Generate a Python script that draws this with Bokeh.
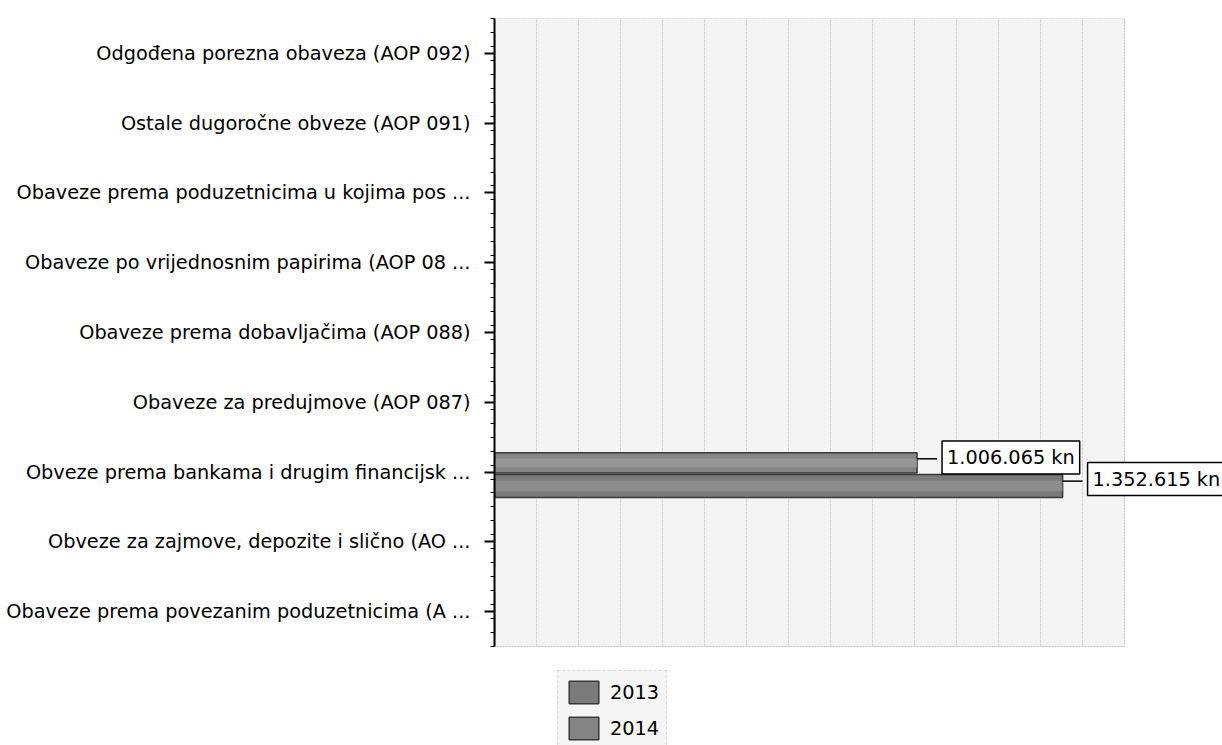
from bokeh.plotting import figure
from bokeh.models import (FixedTicker, Legend, LegendItem, ColumnDataSource, Label)
from bokeh.embed import file_html
from bokeh.resources import INLINE

# ---- data ----
categories = [
    "Obaveze prema povezanim poduzetnicima (A ...",
    "Obveze za zajmove, depozite i slično (AO ...",
    "Obveze prema bankama i drugim financijsk ...",
    "Obaveze za predujmove (AOP 087)",
    "Obaveze prema dobavljačima (AOP 088)",
    "Obaveze po vrijednosnim papirima (AOP 08 ...",
    "Obaveze prema poduzetnicima u kojima pos ...",
    "Ostale dugoročne obveze (AOP 091)",
    "Odgođena porezna obaveza (AOP 092)",
]
values_2013 = [0, 0, 1352615, 0, 0, 0, 0, 0, 0]
values_2014 = [0, 0, 1006065, 0, 0, 0, 0, 0, 0]
series_names = ["2013", "2014"]
x_max = 1500000
x_step = 100000

FONT = "DejaVu Sans"
FS = "19.3px"

def fmt(v):
    return f"{v:,}".replace(",", ".") + " kn"

n = len(categories)
idx = [i + 0.5 for i in range(n)]

# layout (pixels)
W, H = 1222, 745
LEFT, TOP = 494, 18
PLOT_W, PLOT_H = 630, 628          # visible plot area
frame_w = W - LEFT
frame_h = H - TOP
x_end = x_max * frame_w / PLOT_W
y_start = n - n * frame_h / PLOT_H

p = figure(width=W, height=H, output_backend="svg", toolbar_location=None,
           x_range=(0, x_end), y_range=(y_start, n),
           min_border_left=LEFT, min_border_right=0, min_border_top=TOP,
           min_border_bottom=0)

p.background_fill_color = "white"
p.border_fill_color = "white"
p.outline_line_color = None
p.xgrid.visible = False
p.ygrid.visible = False
p.xaxis.visible = False

# plot area background + border
p.quad(left=[0], right=[x_max], bottom=[0], top=[n],
       fill_color="#f3f3f3", line_color="#bdbdbd", line_dash="2 1", line_width=1)
# vertical grid lines
gx = list(range(x_step, x_max, x_step))
p.segment(x0=gx, x1=gx, y0=[0] * len(gx), y1=[n] * len(gx),
          line_color="#d2d2d2", line_dash="3 1", line_width=1)

# y axis
yax = p.yaxis[0]
minor = [i * 0.2 for i in range(n * 5 + 1)]
yax.ticker = FixedTicker(ticks=idx, minor_ticks=minor)
yax.bounds = (0, n)
yax.major_label_overrides = {v: c for v, c in zip(idx, categories)}
yax.major_label_text_font = FONT
yax.major_label_text_font_size = FS
yax.major_label_text_color = "black"
yax.major_label_standoff = 14
yax.axis_line_color = "black"
yax.axis_line_width = 2
yax.major_tick_line_color = "black"
yax.major_tick_line_width = 2
yax.major_tick_out = 10
yax.major_tick_in = 0
yax.minor_tick_line_color = "black"
yax.minor_tick_out = 4
yax.minor_tick_in = 0

# bars
off13, h13 = -0.2, 0.33
off14, h14 = 0.13, 0.29
src13 = ColumnDataSource(dict(y=[v + off13 for v in idx], right=values_2013))
src14 = ColumnDataSource(dict(y=[v + off14 for v in idx], right=values_2014))

r13 = p.hbar(y="y", right="right", left=0, height=h13, source=src13,
             fill_color="#7a7a7a", line_color="#383838", line_width=1.5)
p.hbar(y="y", right="right", left=0, height=h13 * 0.45, source=src13,
       fill_color="#989898", line_color=None, fill_alpha=0.6)
r14 = p.hbar(y="y", right="right", left=0, height=h14, source=src14,
             fill_color="#858585", line_color="#383838", line_width=1.5)
p.hbar(y="y", right="right", left=0, height=h14 * 0.45, source=src14,
       fill_color="#a2a2a2", line_color=None, fill_alpha=0.6)

# value labels with connector
for vals, off, ray_dy, lab_dy in ((values_2013, off13, 0.07, 0.10),
                                  (values_2014, off14, 0.06, 0.08)):
    for y, v in zip(idx, vals):
        if v <= 0:
            continue
        p.ray(x=[v], y=[y + off + ray_dy], length=20, length_units="screen",
              angle=0, line_color="black", line_width=1.5)
        p.add_layout(Label(x=v, y=y + off + lab_dy, text=fmt(v), x_offset=25,
                           text_font=FONT, text_font_size=FS, text_color="black",
                           text_baseline="middle", text_align="left",
                           background_fill_color="white", padding=5,
                           border_line_color="black", border_line_width=1.5))

legend = Legend(items=[LegendItem(label=series_names[0], renderers=[r13]),
                       LegendItem(label=series_names[1], renderers=[r14])],
                location=(63, -5), orientation="vertical",
                label_text_font=FONT, label_text_font_size=FS,
                label_text_color="black",
                glyph_width=37, glyph_height=28, spacing=8, padding=7,
                border_line_color="#bbbbbb", border_line_dash="2 1",
                background_fill_color="#f5f5f5", background_fill_alpha=1,
                label_standoff=8)
p.add_layout(legend, "center")

open("out.html", "w").write(file_html(p, INLINE))
